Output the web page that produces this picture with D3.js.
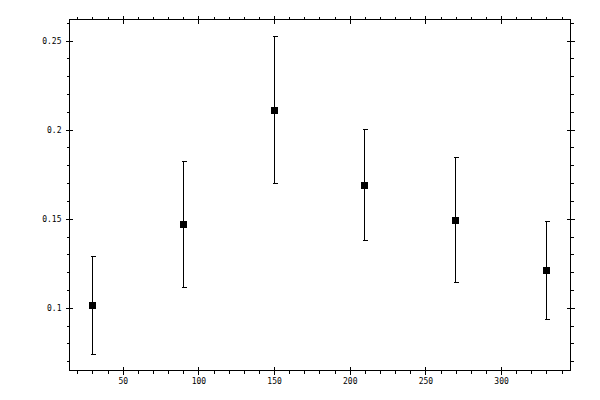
<!DOCTYPE html>
<html>
<head>
<meta charset="utf-8">
<script src="https://cdn.jsdelivr.net/npm/d3@7"></script>
<style>
  html, body { margin: 0; padding: 0; background: #fff; }
  svg text { font-family: "DejaVu Sans Mono", monospace; font-size: 8px; fill: #000; }
</style>
</head>
<body>
<div id="chart"></div>
<script>
// data
const xVals = [30, 90, 150, 210, 270, 330];
const yVals = [0.1017, 0.1472, 0.2112, 0.1691, 0.1494, 0.1213];
const errLow = [0.0743, 0.1118, 0.1702, 0.1382, 0.1146, 0.0938];
const errHigh = [0.1292, 0.1826, 0.2528, 0.2003, 0.1848, 0.1487];

const xMajor = [50, 100, 150, 200, 250, 300];
const xMinor = d3.range(20, 341, 10);
const yMajor = [0.1, 0.15, 0.2, 0.25];
const yMinor = d3.range(7, 27).map(d => d / 100);

const width = 600, height = 400;
const plotLeft = 69.5, plotRight = 570.5, plotTop = 19.5, plotBottom = 370.5;

const svg = d3.select("#chart").append("svg")
    .attr("width", width)
    .attr("height", height);

const x = d3.scaleLinear().domain([14.8, 345.9]).range([plotLeft, plotRight]);
const y = d3.scaleLinear().domain([0.0648, 0.2618]).range([plotBottom, plotTop]);

// frame
svg.append("rect")
    .attr("x", plotLeft).attr("y", plotTop)
    .attr("width", plotRight - plotLeft).attr("height", plotBottom - plotTop)
    .attr("fill", "none").attr("stroke", "#000")
    .attr("shape-rendering", "crispEdges");

// helper: style an axis group, majors crossing the frame
function styleAxis(g, cross, dir) {
    g.select(".domain").remove();
    g.selectAll("line").attr("stroke", "#000").attr("shape-rendering", "crispEdges");
    if (cross) {
        g.selectAll("line").each(function() {
            const l = d3.select(this);
            if (dir === "x") l.attr("x1", cross);
            else l.attr("y1", cross);
        });
    }
}

// minor ticks (outward)
svg.append("g").attr("transform", `translate(${plotLeft},0)`)
    .call(d3.axisLeft(y).tickValues(yMinor).tickSize(3).tickFormat(""))
    .call(g => styleAxis(g));
svg.append("g").attr("transform", `translate(${plotRight},0)`)
    .call(d3.axisRight(y).tickValues(yMinor).tickSize(3).tickFormat(""))
    .call(g => styleAxis(g));
svg.append("g").attr("transform", `translate(0,${plotTop})`)
    .call(d3.axisTop(x).tickValues(xMinor).tickSize(3).tickFormat(""))
    .call(g => styleAxis(g));
svg.append("g").attr("transform", `translate(0,${plotBottom})`)
    .call(d3.axisBottom(x).tickValues(xMinor).tickSize(3).tickFormat(""))
    .call(g => styleAxis(g));

// major ticks (crossing)
svg.append("g").attr("transform", `translate(${plotLeft},0)`)
    .call(d3.axisLeft(y).tickValues(yMajor).tickSize(4).tickPadding(4).tickFormat(d => String(d)))
    .call(g => styleAxis(g, 3, "x"));
svg.append("g").attr("transform", `translate(${plotRight},0)`)
    .call(d3.axisRight(y).tickValues(yMajor).tickSize(4).tickFormat(""))
    .call(g => styleAxis(g, -4, "x"));
svg.append("g").attr("transform", `translate(0,${plotTop})`)
    .call(d3.axisTop(x).tickValues(xMajor).tickSize(4).tickFormat(""))
    .call(g => styleAxis(g, 4, "y"));
svg.append("g").attr("transform", `translate(0,${plotBottom})`)
    .call(d3.axisBottom(x).tickValues(xMajor).tickSize(4).tickPadding(4).tickFormat(d => String(d)))
    .call(g => styleAxis(g, -4, "y"));

// error bars
const pts = xVals.map((v, i) => ({ x: v, y: yVals[i], lo: errLow[i], hi: errHigh[i] }));
const px = d => Math.floor(x(d.x)) + 0.5;
const py = v => Math.round(y(v)) + 0.5;

const bars = svg.append("g").attr("stroke", "#000").attr("shape-rendering", "crispEdges");
bars.selectAll(".stem").data(pts).join("line")
    .attr("class", "stem")
    .attr("x1", px).attr("x2", px)
    .attr("y1", d => py(d.lo)).attr("y2", d => py(d.hi));
bars.selectAll(".capHi").data(pts).join("line")
    .attr("class", "capHi")
    .attr("x1", d => px(d) - 2).attr("x2", d => px(d) + 3)
    .attr("y1", d => py(d.hi)).attr("y2", d => py(d.hi));
bars.selectAll(".capLo").data(pts).join("line")
    .attr("class", "capLo")
    .attr("x1", d => px(d) - 2).attr("x2", d => px(d) + 3)
    .attr("y1", d => py(d.lo)).attr("y2", d => py(d.lo));

// square markers
svg.append("g").selectAll("rect").data(pts).join("rect")
    .attr("x", d => Math.floor(x(d.x)) - 3)
    .attr("y", d => Math.round(y(d.y)) - 3)
    .attr("width", 7).attr("height", 7)
    .attr("fill", "#000")
    .attr("shape-rendering", "crispEdges");
</script>
</body>
</html>
